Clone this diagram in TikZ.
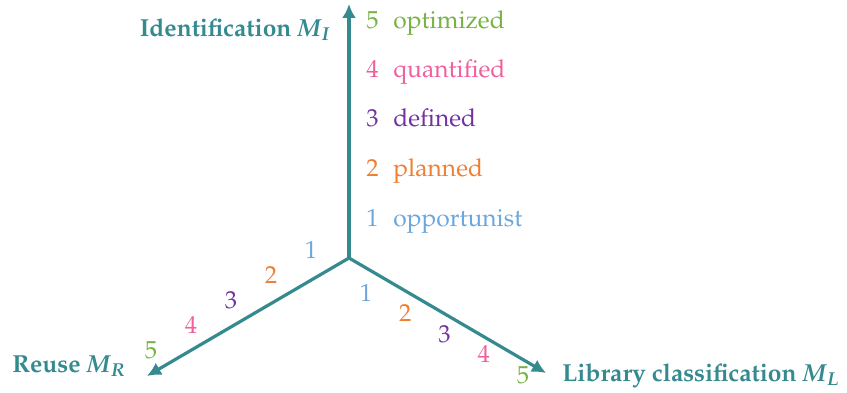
\documentclass[tikz,border=0pt]{standalone}
\usepackage[T1]{fontenc}
\usepackage{amsmath}
\usepackage{mathpazo}
\usetikzlibrary{positioning,arrows.meta}
\definecolor{axis}{HTML}{358A8F}
\definecolor{lvone}{HTML}{6CA6DC}
\definecolor{lvtwo}{HTML}{EE8035}
\definecolor{lvthree}{HTML}{7232A0}
\definecolor{lvfour}{HTML}{F0609A}
\definecolor{lvfive}{HTML}{78B244}
\newcommand{\mvar}[1]{\textit{M}\textsubscript{\textit{#1}}}
\tikzset{
  every node/.append style={font=\fontsize{12.3}{14}\selectfont, inner sep=0pt},
  ax/.style={-{Latex[length=7pt,width=7pt]}, line width=1.6pt, draw=axis},
  axlbl/.style={font=\fontsize{12.3}{14}\selectfont\bfseries, text=axis},
}
\begin{document}
\begin{tikzpicture}[x=0.5pt,y=0.5pt]
  \useasboundingbox (0,0) rectangle (847,392);
  \coordinate (O) at (349,134);
  \coordinate (tipI) at (349,388);
  \coordinate (tipR) at (147,16);
  \coordinate (tipL) at (546,19);
  \draw[ax] (O) -- (tipI);
  \draw[ax] (O) -- (tipR);
  \draw[ax] (O) -- (tipL);
  \node[axlbl, anchor=base east] (lblI) at (331,356) {Identification \mvar{I}};
  \node[axlbl, anchor=base west] (lblL) at (562,11) {Library classification \mvar{L}};
  \node[axlbl, anchor=base west] (lblR) at (12,20) {Reuse \mvar{R}};
  \foreach \n/\txt/\col in
     {1/opportunist/lvone,
      2/planned/lvtwo,
      3/defined/lvthree,
      4/quantified/lvfour,
      5/optimized/lvfive}{
     \node[anchor=base west, text=\col] (numI\n) at (366,{166+49.5*(\n-1)}) {\n};
     \node[anchor=base west, text=\col] (txtI\n) at (393,{166+49.5*(\n-1)}) {\txt};
     \node[text=\col] (numR\n) at ({311-40*(\n-1)},{142-25*(\n-1)}) {\n};
     \node[text=\col] (numL\n) at ({366+39.25*(\n-1)},{99-20.5*(\n-1)}) {\n};
  }
\end{tikzpicture}
\end{document}
